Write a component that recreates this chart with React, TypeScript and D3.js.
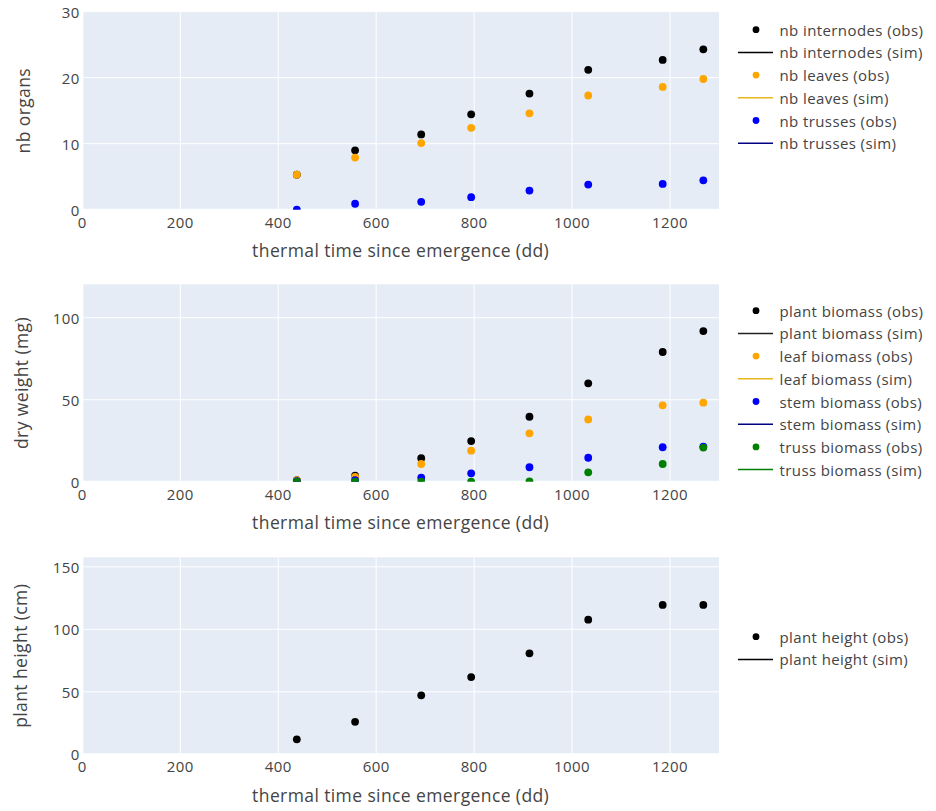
import React from "react";
import * as d3 from "d3";

// Thermal time of each observation date (degree-days since emergence)
const thermalTime = [438, 557, 692, 794, 913, 1033, 1185, 1268];

// Organ counts
const nbInternodes = [5.3, 9.0, 11.4, 14.45, 17.6, 21.2, 22.7, 24.3];
const nbLeaves = [5.3, 7.9, 10.1, 12.4, 14.6, 17.3, 18.6, 19.8];
const nbTrusses = [0, 0.9, 1.2, 1.9, 2.9, 3.8, 3.9, 4.45];

// Dry weights (mg)
const plantBiomass = [1.0, 3.7, 14.3, 24.8, 39.6, 60.0, 79.1, 91.9];
const leafBiomass = [0.9, 3.0, 10.8, 18.9, 29.5, 38.0, 46.6, 48.2];
const stemBiomass = [0.3, 1.0, 2.4, 5.1, 8.8, 14.6, 21.0, 21.4];
const trussBiomass = [0, 0, 0, 0, 0.2, 5.7, 10.8, 20.8];

// Plant height (cm)
const plantHeight = [12.0, 26.0, 47.2, 61.8, 80.8, 107.7, 119.5, 119.5];

// Simulated series (no simulated values available for these runs)
const simEmpty: number[] = [];

const xTicks = [0, 200, 400, 600, 800, 1000, 1200];
const xLabel = "thermal time since emergence (dd)";

type Series = { name: string; kind: "obs" | "sim"; color: string; values: number[] };
type Panel = {
  top: number;
  bottom: number;
  yMax: number;
  yTicks: number[];
  yLabel: string;
  yLabelX: number;
  legendTop: number;
  series: Series[];
};

const panels: Panel[] = [
  {
    top: 11.7,
    bottom: 209.7,
    yMax: 30,
    yTicks: [0, 10, 20, 30],
    yLabel: "nb organs",
    yLabelX: 30,
    legendTop: 29.7,
    series: [
      { name: "nb internodes (obs)", kind: "obs", color: "#000000", values: nbInternodes },
      { name: "nb internodes (sim)", kind: "sim", color: "#000000", values: simEmpty },
      { name: "nb leaves (obs)", kind: "obs", color: "orange", values: nbLeaves },
      { name: "nb leaves (sim)", kind: "sim", color: "#e6b820", values: simEmpty },
      { name: "nb trusses (obs)", kind: "obs", color: "blue", values: nbTrusses },
      { name: "nb trusses (sim)", kind: "sim", color: "navy", values: simEmpty },
    ],
  },
  {
    top: 284.3,
    bottom: 481.7,
    yMax: 120.4,
    yTicks: [0, 50, 100],
    yLabel: "dry weight (mg)",
    yLabelX: 28,
    legendTop: 310.7,
    series: [
      { name: "plant biomass (obs)", kind: "obs", color: "#000000", values: plantBiomass },
      { name: "plant biomass (sim)", kind: "sim", color: "#222222", values: simEmpty },
      { name: "leaf biomass (obs)", kind: "obs", color: "orange", values: leafBiomass },
      { name: "leaf biomass (sim)", kind: "sim", color: "#e6b820", values: simEmpty },
      { name: "stem biomass (obs)", kind: "obs", color: "blue", values: stemBiomass },
      { name: "stem biomass (sim)", kind: "sim", color: "navy", values: simEmpty },
      { name: "truss biomass (obs)", kind: "obs", color: "green", values: trussBiomass },
      { name: "truss biomass (sim)", kind: "sim", color: "green", values: simEmpty },
    ],
  },
  {
    top: 557.3,
    bottom: 754.3,
    yMax: 157.6,
    yTicks: [0, 50, 100, 150],
    yLabel: "plant height (cm)",
    yLabelX: 27,
    legendTop: 636.7,
    series: [
      { name: "plant height (obs)", kind: "obs", color: "#000000", values: plantHeight },
      { name: "plant height (sim)", kind: "sim", color: "#000000", values: simEmpty },
    ],
  },
];

const FONT = "'Open Sans', 'Noto Sans', sans-serif";
const TEXT = "#444";
const BG = "#E5ECF6";
const LEFT = 82.3;
const RIGHT = 719;
const LEGEND_STEP = 22.7;

const x = d3.scaleLinear().domain([0, 1300]).range([LEFT, RIGHT]);

function PanelView({ p, idx }: { p: Panel; idx: number }) {
  const y = d3.scaleLinear().domain([0, p.yMax]).range([p.bottom, p.top]);
  const clipId = `plot-clip-${idx}`;
  const line = d3
    .line<number>()
    .x((_, i) => x(thermalTime[i]))
    .y((v) => y(v));
  const midY = (p.top + p.bottom) / 2;
  return (
    <g>
      <defs>
        <clipPath id={clipId}>
          <rect x={LEFT} y={p.top} width={RIGHT - LEFT} height={p.bottom - p.top} />
        </clipPath>
      </defs>
      <rect x={LEFT} y={p.top} width={RIGHT - LEFT} height={p.bottom - p.top} fill={BG} />
      {xTicks.map((t) => (
        <line key={`vx${t}`} x1={x(t)} x2={x(t)} y1={p.top} y2={p.bottom} stroke="#fff" strokeWidth={t === 0 ? 2 : 1} />
      ))}
      {p.yTicks.map((t) => (
        <line key={`hy${t}`} x1={LEFT} x2={RIGHT} y1={y(t)} y2={y(t)} stroke="#fff" strokeWidth={t === 0 ? 2 : 1} />
      ))}
      <g clipPath={`url(#${clipId})`}>
        {p.series.map((s) =>
          s.kind === "sim" ? (
            s.values.length > 0 ? (
              <path key={s.name} d={line(s.values) ?? ""} fill="none" stroke={s.color} strokeWidth={1.5} />
            ) : null
          ) : (
            <g key={s.name}>
              {s.values.map((v, i) => (
                <circle key={i} cx={x(thermalTime[i])} cy={y(v)} r={3.9} fill={s.color} />
              ))}
            </g>
          )
        )}
      </g>
      {xTicks.map((t) => (
        <text key={`tx${t}`} x={x(t)} y={p.bottom + 12} textAnchor="middle" dominantBaseline="central" fontSize={15} letterSpacing={0.4} fill={TEXT} fontFamily={FONT}>
          {t}
        </text>
      ))}
      {p.yTicks.map((t) => (
        <text key={`ty${t}`} x={LEFT - 2.5} y={y(t)} textAnchor="end" dominantBaseline="central" fontSize={15} letterSpacing={0.4} fill={TEXT} fontFamily={FONT}>
          {t}
        </text>
      ))}
      <text x={(LEFT + RIGHT) / 2} y={p.bottom + 47.5} textAnchor="middle" fontSize={17.5} letterSpacing={0.4} fill={TEXT} fontFamily={FONT}>
        {xLabel}
      </text>
      <text
        transform={`translate(${p.yLabelX},${midY}) rotate(-90)`}
        textAnchor="middle"
        fontSize={17.5}
        letterSpacing={0.4}
        fill={TEXT}
        fontFamily={FONT}
      >
        {p.yLabel}
      </text>
      {p.series.map((s, i) => {
        const ly = p.legendTop + i * LEGEND_STEP;
        return (
          <g key={`lg${s.name}`}>
            {s.kind === "obs" ? (
              <circle cx={756} cy={ly} r={3.4} fill={s.color} />
            ) : (
              <line x1={738} x2={773} y1={ly} y2={ly} stroke={s.color} strokeWidth={1.5} />
            )}
            <text x={779.5} y={ly} dominantBaseline="central" fontSize={15} letterSpacing={0.4} fill={TEXT} fontFamily={FONT}>
              {s.name}
            </text>
          </g>
        );
      })}
    </g>
  );
}

export default function App() {
  return (
    <svg
      width={936}
      height={811}
      style={{ position: "absolute", left: 0, top: 0, background: "#fff" }}
    >
      {panels.map((p, i) => (
        <PanelView key={i} p={p} idx={i} />
      ))}
    </svg>
  );
}
